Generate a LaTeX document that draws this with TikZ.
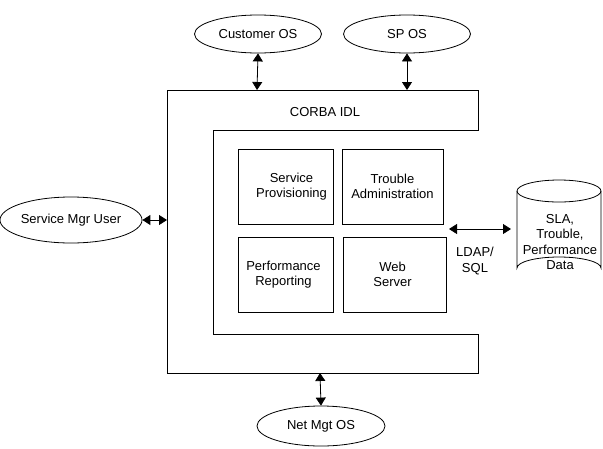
\documentclass[tikz,border=0pt]{standalone}
\usepackage{fontspec}
\setmainfont{Liberation Sans}
\usetikzlibrary{shapes.geometric,arrows.meta}
\begin{document}
\begin{tikzpicture}[x=1pt,y=-1pt,
  line width=0.8pt,
  every node/.style={font=\fontsize{13}{15.5}\selectfont},
  oval/.style={draw,ellipse,inner sep=0pt,minimum width=127pt,minimum height=38pt},
  mod/.style={draw,rectangle,inner sep=0pt,align=center},
  conn/.style={{Triangle[length=8pt,width=10pt]}-{Triangle[length=8pt,width=10pt]}}
]
\useasboundingbox (0,0) rectangle (603,448);
% frame (C shape)
\draw (167,90) -- (478,90) -- (478,130) -- (213,130) -- (213,334) -- (478,334) -- (478,373) -- (167,373) -- cycle;
\node (corba) at (325,112) {CORBA IDL};
% named points on the frame
\coordinate (fTopA) at (257,90);
\coordinate (fTopB) at (407,90);
\coordinate (fLeft) at (167,220);
\coordinate (fBot) at (320,373);
% external ellipses
\node[oval] (cust) at (258,34) {Customer OS};
\node[oval] (sp) at (407,34) {SP OS};
\node[oval,minimum width=128pt,minimum height=46pt] (smu) at (71,220) {Service Mgr User};
\node[oval,minimum width=128pt,minimum height=40pt] (net) at (321,426) {Net Mgt OS};
% arrows
\draw[conn] (cust.south) -- (fTopA);
\draw[conn] (sp.south) -- (fTopB);
\draw[conn] (smu.east) -- (fLeft);
\draw[conn] (fBot) -- (net.north);
% inner modules
\node[mod,minimum width=95pt,minimum height=75pt] (prov) at (285.5,186.5) {\hspace*{12pt}Service\\\hspace*{12pt}Provisioning};
\node[mod,minimum width=101pt,minimum height=75pt] (trouble) at (392.5,186.5) {Trouble\\Administration};
\node[mod,minimum width=95pt,minimum height=75pt] (perf) at (285.5,274.5) {Performance\hspace*{4pt}\\Reporting\hspace*{4pt}};
\node[mod,minimum width=103pt,minimum height=75pt] (web) at (394.5,274.5) {Web\hspace*{4pt}\\Server\hspace*{4pt}};
% database cylinder
\draw (517,191) -- (517,268) arc[start angle=180,end angle=360,x radius=42,y radius=11] -- (601,191);
\draw (559,191) ellipse[x radius=42,y radius=11];
\node[align=center,inner sep=0pt] (db) at (560,242) {SLA,\\Trouble,\\Performance\\Data};
\coordinate (ldapL) at (449,229);
\coordinate (ldapR) at (511,229);
\draw[conn] (ldapL) -- (ldapR);
\node[align=center,inner sep=0pt] (ldap) at (475,261) {LDAP/\\SQL};
\end{tikzpicture}
\end{document}
